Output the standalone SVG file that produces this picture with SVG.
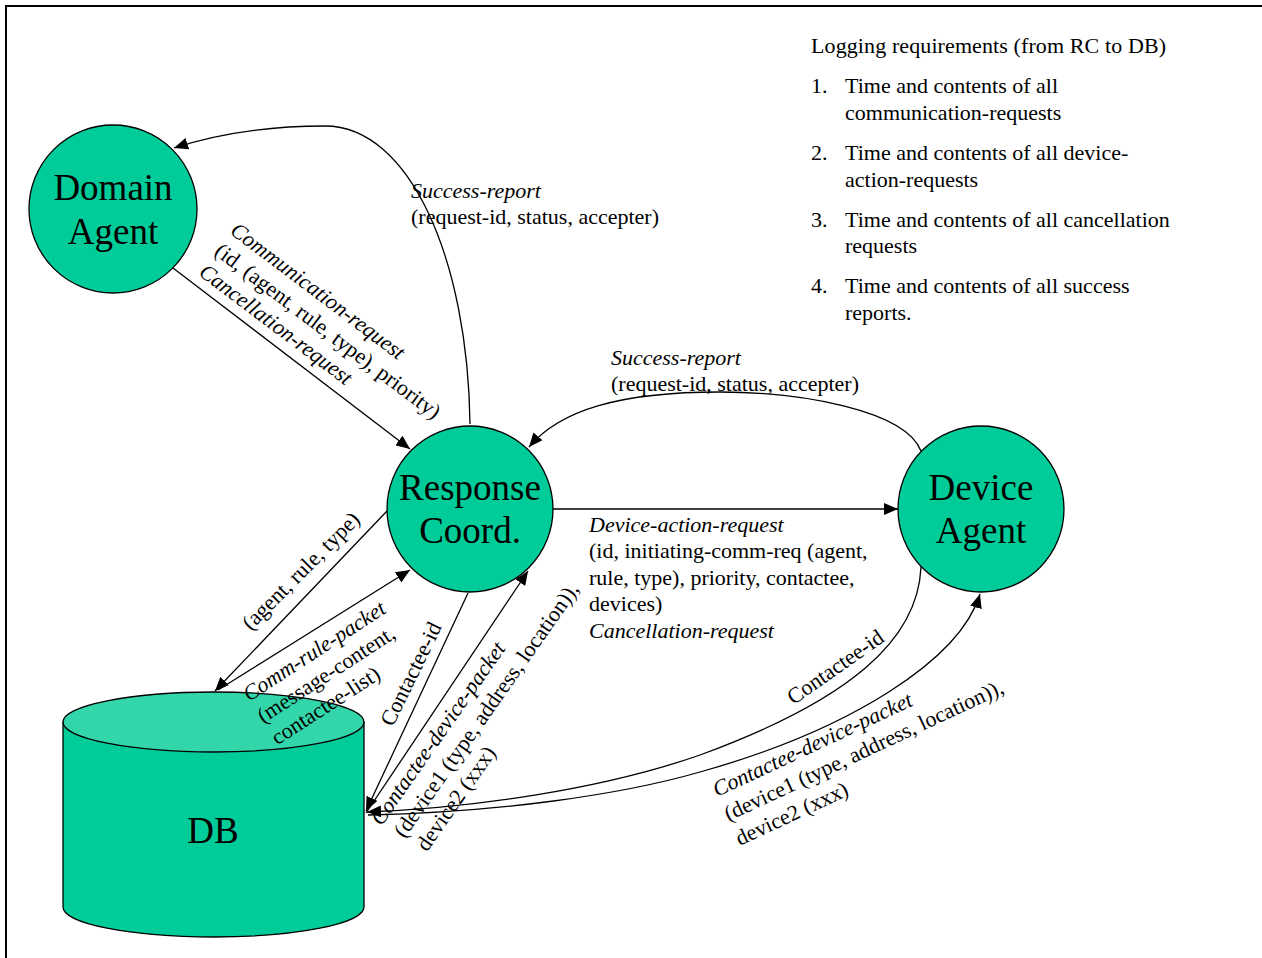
<svg xmlns="http://www.w3.org/2000/svg" width="1262" height="958" viewBox="0 0 1262 958">
<style>
text{font-family:"Liberation Serif","Times New Roman",serif;fill:#000}
.lbl{font-size:22px}
.it{font-style:italic}
.node{font-size:37px}
.c{text-anchor:middle}
.shape{fill:#00CC99;stroke:#000;stroke-width:1.3}
.conn{fill:none;stroke:#000;stroke-width:1.3}
</style>
<defs>
<marker id="arr" viewBox="0 0 14 12" refX="14" refY="6" markerWidth="14" markerHeight="12" orient="auto" markerUnits="userSpaceOnUse"><path d="M0,0 L14,6 L0,12 z" fill="#000"/></marker>
</defs>
<rect width="1262" height="958" fill="#fff"/>
<path d="M6,958 V6 H1262" fill="none" stroke="#000" stroke-width="2"/>

<g id="connectors">
<path class="conn" d="M470,424 C468,260 410,126 325,126 C270,126 220,133 174,148" marker-end="url(#arr)"/>
<path class="conn" d="M173,268 L410,449" marker-end="url(#arr)"/>
<path class="conn" d="M921,451 C905,410 800,392 720,392 C620,392 560,410 529,447" marker-end="url(#arr)"/>
<path class="conn" d="M553,509 L898,509" marker-end="url(#arr)"/>
<path class="conn" d="M387,511 L215,691" marker-end="url(#arr)"/>
<path class="conn" d="M218,690 L410,570" marker-end="url(#arr)"/>
<path class="conn" d="M468,593 L366,811" marker-end="url(#arr)"/>
<path class="conn" d="M366,813 L528,571" marker-end="url(#arr)"/>
<path class="conn" d="M921,567 C918,640 850,700 700,755 C600,790 470,808 367,812" marker-end="url(#arr)"/>
<path class="conn" d="M368,815 C500,812 620,795 700,772 C850,730 960,660 980,594" marker-end="url(#arr)"/>
</g>

<g id="domain-agent">
<circle class="shape" cx="113" cy="209" r="84"/>
<text class="node c" x="113" y="200">Domain</text>
<text class="node c" x="113" y="244">Agent</text>
</g>
<g id="response-coord">
<circle class="shape" cx="470" cy="509" r="83"/>
<text class="node c" x="470" y="500">Response</text>
<text class="node c" x="470" y="543">Coord.</text>
</g>
<g id="device-agent">
<circle class="shape" cx="981" cy="509" r="83"/>
<text class="node c" x="981" y="500">Device</text>
<text class="node c" x="981" y="543">Agent</text>
</g>
<g id="db">
<path class="shape" d="M63,722 V907 A150.5,30 0 0 0 364,907 V722"/>
<ellipse cx="213.5" cy="722" rx="150.5" ry="30" fill="#33D6AA" stroke="#000" stroke-width="1.3"/>
<text class="node c" x="213" y="843">DB</text>
</g>

<g id="labels">
<text class="lbl" x="811" y="53" textLength="355">Logging requirements (from RC to DB)</text>
<text class="lbl" x="811" y="93">1.</text>
<text class="lbl" x="845" y="93">Time and contents of all</text>
<text class="lbl" x="845" y="120">communication-requests</text>
<text class="lbl" x="811" y="160">2.</text>
<text class="lbl" x="845" y="160">Time and contents of all device-</text>
<text class="lbl" x="845" y="187">action-requests</text>
<text class="lbl" x="811" y="227">3.</text>
<text class="lbl" x="845" y="227">Time and contents of all cancellation</text>
<text class="lbl" x="845" y="253">requests</text>
<text class="lbl" x="811" y="293">4.</text>
<text class="lbl" x="845" y="293">Time and contents of all success</text>
<text class="lbl" x="845" y="320">reports.</text>

<text class="lbl it" x="411" y="198">Success-report</text>
<text class="lbl" x="411" y="224">(request-id, status, accepter)</text>

<text class="lbl it" x="611" y="365">Success-report</text>
<text class="lbl" x="611" y="391">(request-id, status, accepter)</text>

<text class="lbl it" x="589" y="532">Device-action-request</text>
<text class="lbl" x="589" y="558">(id, initiating-comm-req (agent,</text>
<text class="lbl" x="589" y="585">rule, type), priority, contactee,</text>
<text class="lbl" x="589" y="611">devices)</text>
<text class="lbl it" x="589" y="638">Cancellation-request</text>

<g transform="translate(229,233) rotate(37)">
<text class="lbl"><tspan class="it" x="0" y="0">Communication-request</tspan><tspan x="0" y="26">(id, (agent, rule, type), priority)</tspan><tspan class="it" x="0" y="52">Cancellation-request</tspan></text>
</g>

<text class="lbl c" transform="translate(306,576) rotate(-45)">(agent, rule, type)</text>

<g transform="translate(249,702) rotate(-33)">
<text class="lbl"><tspan class="it" x="0" y="0">Comm-rule-packet</tspan><tspan x="0" y="26">(message-content,</tspan><tspan x="0" y="52">contactee-list)</tspan></text>
</g>

<text class="lbl c" transform="translate(417.5,677) rotate(-64)">Contactee-id</text>

<g transform="translate(389,816) rotate(-55)">
<text class="lbl"><tspan class="it" x="-13" y="0">Contactee-device-packet</tspan><tspan x="-10" y="26">(device1 (type, address, location)),</tspan><tspan x="-8" y="52">device2 (xxx)</tspan></text>
</g>

<text class="lbl c" transform="translate(839.5,673) rotate(-35)">Contactee-id</text>

<g transform="translate(717,797) rotate(-25)">
<text class="lbl"><tspan class="it" x="0" y="0">Contactee-device-packet</tspan><tspan x="0" y="27">(device1 (type, address, location)),</tspan><tspan x="0" y="54">device2 (xxx)</tspan></text>
</g>
</g>
</svg>
